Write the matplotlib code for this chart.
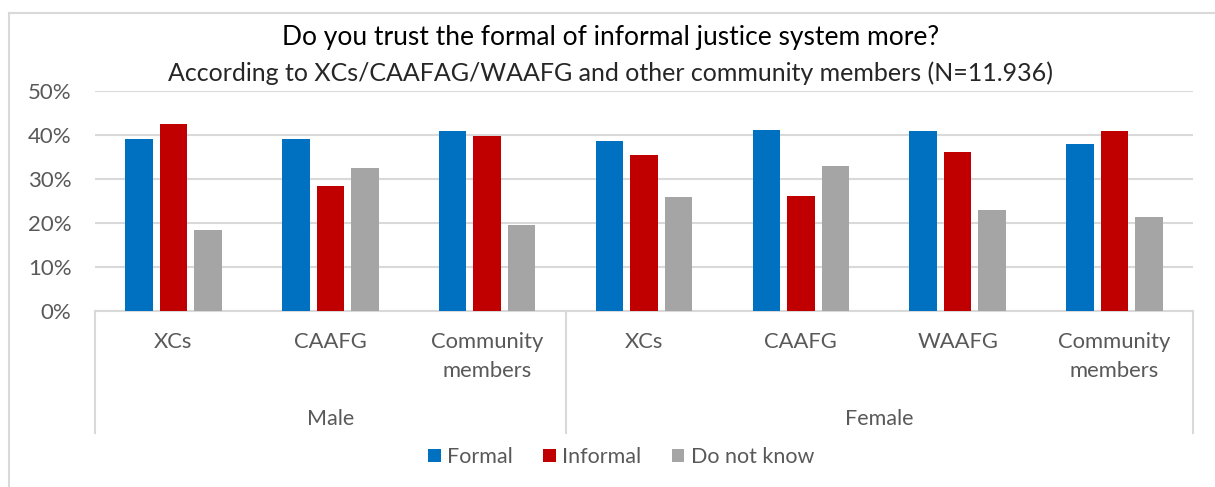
import matplotlib
matplotlib.use("Agg")
import matplotlib.pyplot as plt
from matplotlib.lines import Line2D
from matplotlib.patches import Patch
from matplotlib.transforms import blended_transform_factory
import numpy as np

categories = ["XCs", "CAAFG", "Community\nmembers",
              "XCs", "CAAFG", "WAAFG", "Community\nmembers"]
groups = ["Male", "Female"]
group_sizes = [3, 4]

formal = [39.2, 39.1, 40.8, 38.7, 41.1, 41.0, 37.9]
informal = [42.4, 28.3, 39.8, 35.4, 26.1, 36.1, 41.0]
do_not_know = [18.4, 32.6, 19.5, 25.9, 32.9, 23.0, 21.3]

series = [("Formal", formal, "#0070C0"),
          ("Informal", informal, "#C00000"),
          ("Do not know", do_not_know, "#A5A5A5")]

W, H = 1215, 487
plt.rcParams["font.family"] = ["Lato", "DejaVu Sans"]

fig = plt.figure(figsize=(W / 100, H / 100), dpi=100)
ax = fig.add_axes([95 / W, (H - 311) / H, 1098 / W, 220 / H])

x = np.arange(len(categories))
step, width = 0.22, 0.175
for k, (name, vals, color) in enumerate(series):
    ax.bar(x + (k - 1) * step, vals, width=width, color=color, zorder=3)

ax.set_xlim(-0.5, len(categories) - 0.5)
ax.set_ylim(0, 50)
ax.set_yticks(range(0, 51, 10))
ax.set_yticklabels([f"{v}%" for v in range(0, 51, 10)])
ax.tick_params(axis="y", length=0, pad=17, labelsize=16, labelcolor="#595959")
ax.set_xticks([])
ax.grid(axis="y", color="#d9d9d9", linewidth=1.5, zorder=0)
for side in ["top", "right", "left"]:
    ax.spines[side].set_visible(False)
ax.spines["bottom"].set_color("#d9d9d9")
ax.spines["bottom"].set_linewidth(1.5)

# multi-level category axis below the bars
trans = blended_transform_factory(ax.transData, ax.transAxes)
px = 1 / 220
for i, label in enumerate(categories):
    ax.text(i, -21 * px, label, transform=trans, ha="center", va="top",
            fontsize=15.8, color="#595959", linespacing=1.55)

edges = [-0.5]
for size in group_sizes:
    edges.append(edges[-1] + size)
for e in edges:
    ax.plot([e, e], [0, -122 * px], transform=trans, color="#d9d9d9",
            linewidth=1.5, clip_on=False)
for g, name in enumerate(groups):
    ax.text((edges[g] + edges[g + 1]) / 2, -108 * px, name, transform=trans,
            ha="center", va="center", fontsize=15.5, color="#595959")

fig.text(611 / W, 1 - 37 / H, "Do you trust the formal of informal justice system more?",
         ha="center", va="center", fontsize=19, color="black")
fig.text(611 / W, 1 - 73 / H,
         "According to XCs/CAAFAG/WAAFG and other community members (N=11.936)",
         ha="center", va="center", fontsize=18, color="#262626")

handles = [Patch(facecolor=c, label=n) for n, _, c in series]
fig.legend(handles=handles, loc="center", bbox_to_anchor=(621 / W, 1 - 457 / H),
           ncol=3, frameon=False, fontsize=15.5, handlelength=0.6, handleheight=0.6,
           handletextpad=0.3, columnspacing=1.4, labelcolor="#595959")

# chart border
fig.add_artist(Line2D([9 / W, 9 / W], [0, 1 - 13 / H], color="#d9d9d9", linewidth=1.5))
fig.add_artist(Line2D([9 / W, 1], [1 - 13 / H, 1 - 13 / H], color="#d9d9d9", linewidth=1.5))

fig.savefig("out.png", dpi=100)
